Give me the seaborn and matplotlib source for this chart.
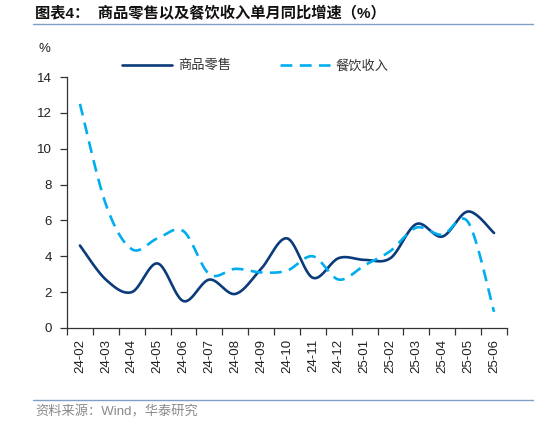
import numpy as np
import pandas as pd
import matplotlib
matplotlib.use("Agg")
import matplotlib.pyplot as plt
from matplotlib.lines import Line2D
import seaborn as sns

# ---- data ----
months = ["24-02", "24-03", "24-04", "24-05", "24-06", "24-07", "24-08", "24-09",
          "24-10", "24-11", "24-12", "25-01", "25-02", "25-03", "25-04", "25-05", "25-06"]
retail = [4.6, 2.7, 2.0, 3.6, 1.5, 2.7, 1.9, 3.3, 5.0, 2.8, 3.9, 3.8, 3.9, 5.8, 5.1, 6.5, 5.3]
catering = [12.5, 6.9, 4.4, 5.0, 5.4, 3.0, 3.3, 3.1, 3.2, 4.0, 2.7, 3.5, 4.3, 5.6, 5.2, 5.9, 0.9]
series_names = ["商品零售", "餐饮收入"]
yticks = [0, 2, 4, 6, 8, 10, 12, 14]
title = "图表4：  商品零售以及餐饮收入单月同比增速（%）"
source = "资料来源：Wind，华泰研究"

sns.set_style("white")
plt.rcParams['font.family'] = ['Liberation Sans', 'Noto Sans CJK SC', 'DejaVu Sans']

C_RETAIL = "#0b3b7a"
C_CAT = "#00aeef"


def smooth(values, n=24):
    """Excel-like smoothed line (Catmull-Rom Bezier) drawn through the data points."""
    x = np.arange(len(values), dtype=float)
    y = np.asarray(values, dtype=float)
    xs, ys = [], []
    for i in range(len(y) - 1):
        i0, i3 = max(i - 1, 0), min(i + 2, len(y) - 1)
        p0 = np.array([x[i], y[i]])
        p1 = np.array([x[i + 1], y[i + 1]])
        b1 = p0 + (np.array([x[i + 1], y[i + 1]]) - np.array([x[i0], y[i0]])) / 6
        b2 = p1 - (np.array([x[i3], y[i3]]) - np.array([x[i], y[i]])) / 6
        t = np.linspace(0, 1, n, endpoint=(i == len(y) - 2))[:, None]
        pts = ((1 - t) ** 3) * p0 + 3 * ((1 - t) ** 2) * t * b1 + 3 * (1 - t) * t ** 2 * b2 + t ** 3 * p1
        xs.extend(pts[:, 0]); ys.extend(pts[:, 1])
    return np.array(xs), np.array(ys)


W, H = 534, 424
fig = plt.figure(figsize=(W / 100, H / 100), dpi=100)
ax = fig.add_axes([67 / W, 1 - 328 / H, 440 / W, 251 / H])

rx, ry = smooth(retail)
cx, cy = smooth(catering)
df_r = pd.DataFrame({"x": rx, "y": ry})
df_c = pd.DataFrame({"x": cx, "y": cy})
sns.lineplot(data=df_r, x="x", y="y", ax=ax, color=C_RETAIL, lw=1.9, sort=False, estimator=None)
sns.lineplot(data=df_c, x="x", y="y", ax=ax, color=C_CAT, lw=1.9, sort=False, estimator=None,
             dashes=False)
ax.lines[-1].set_dashes((4.5, 2.8))

ax.set_xlim(-0.5, len(months) - 0.5)
ax.set_ylim(0, 14)
ax.set_xlabel("")
ax.set_ylabel("")
ax.set_yticks(yticks)
ax.set_yticklabels([str(v) for v in yticks], fontsize=9.5, color="#222222")
ax.set_xticks(range(len(months)))
ax.set_xticklabels(months, rotation=90, fontsize=9.5, color="#222222")
ax.set_xticks(np.arange(-0.5, len(months), 1.0), minor=True)
ax.tick_params(axis="x", which="major", length=0, pad=8)
ax.tick_params(axis="x", which="minor", length=5, width=0.9, color="#333333", direction="out")
ax.tick_params(axis="y", which="major", length=5, width=0.9, color="#333333", direction="out", pad=6)
ax.yaxis.set_tick_params(left=True)
ax.xaxis.set_tick_params(which="minor", bottom=True)

for s in ["top", "right"]:
    ax.spines[s].set_visible(False)
for s in ["left", "bottom"]:
    ax.spines[s].set_color("#333333")
    ax.spines[s].set_linewidth(0.9)

# legend
handles = [Line2D([], [], color=C_RETAIL, lw=1.9),
           Line2D([], [], color=C_CAT, lw=1.9, dashes=(4.5, 2.8))]
fig.legend(handles, series_names, loc="center left", bbox_to_anchor=(110 / W, 1 - 66 / H),
           ncol=2, frameon=False, fontsize=9.5, handlelength=3.8, handletextpad=0.45,
           columnspacing=3.7, labelcolor="#333333")

# "%" label
fig.text(44 / W, 1 - 49 / H, "%", fontsize=9.5, ha="center", va="center", color="#222222")

# title and rules
fig.text(35 / W, 1 - 14 / H, title, fontsize=11, fontweight="bold", ha="left", va="center",
         color="#111111")
fig.add_artist(Line2D([33 / W, 1.0], [1 - 24 / H, 1 - 24 / H], color="#7f9fc7", lw=1.0))
fig.add_artist(Line2D([33 / W, 1.0], [1 - 400 / H, 1 - 400 / H], color="#7f9fc7", lw=1.0))
fig.text(35 / W, 1 - 412 / H, source, fontsize=9.5, ha="left", va="center", color="#8a8a8a")

fig.savefig("out.png", dpi=100)
